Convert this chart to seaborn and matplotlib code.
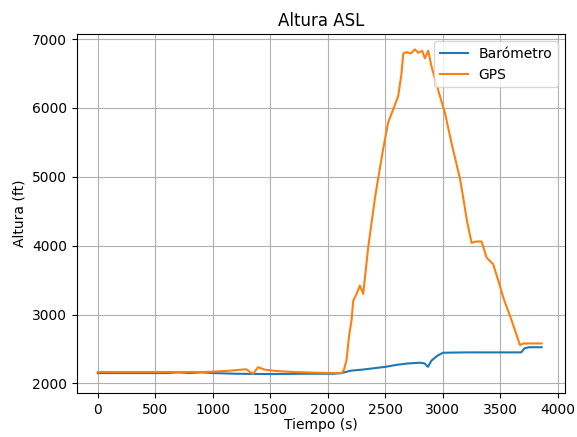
import pandas as pd
import matplotlib
matplotlib.use("Agg")
import matplotlib.pyplot as plt
import seaborn as sns

# Barómetro (tiempo s, altura ft)
baro_t = [0, 300, 600, 700, 800, 900, 1000, 1200, 1500, 1800, 2050, 2120, 2200, 2300,
          2400, 2500, 2600, 2700, 2800, 2840, 2870, 2900, 2950, 3000, 3200, 3400, 3600,
          3680, 3710, 3750, 3858]
baro_alt = [2150, 2150, 2150, 2160, 2150, 2160, 2150, 2140, 2135, 2140, 2140, 2150, 2185, 2200,
            2220, 2240, 2270, 2290, 2300, 2290, 2240, 2330, 2400, 2445, 2450, 2450, 2450,
            2450, 2510, 2525, 2525]

# GPS
gps_t = [0, 300, 600, 900, 1000, 1150, 1290, 1320, 1350, 1393, 1450, 1550, 1700, 1900,
         2050, 2100, 2119, 2140, 2162, 2185, 2206, 2220, 2250, 2278, 2307, 2350, 2409,
         2437, 2480, 2524, 2570, 2611, 2640, 2655, 2684, 2720, 2757, 2786, 2820, 2843,
         2872, 2901, 2960, 3017, 3080, 3148, 3177, 3210, 3249, 3290, 3336, 3380, 3437,
         3480, 3524, 3600, 3670, 3700, 3858]
gps_alt = [2165, 2165, 2165, 2165, 2170, 2185, 2205, 2170, 2140, 2235, 2200, 2180, 2165, 2155,
           2150, 2150, 2148, 2200, 2340, 2700, 2920, 3200, 3300, 3420, 3300, 3970, 4690,
           4975, 5400, 5790, 5990, 6170, 6500, 6790, 6810, 6790, 6850, 6800, 6830, 6720,
           6830, 6600, 6250, 5930, 5450, 4975, 4690, 4350, 4040, 4060, 4060, 3825, 3730,
           3500, 3250, 2900, 2556, 2580, 2580]

baro = pd.DataFrame({"t": baro_t, "alt": baro_alt})
gps = pd.DataFrame({"t": gps_t, "alt": gps_alt})

fig, ax = plt.subplots(figsize=(5.77, 4.37), dpi=100)
fig.subplots_adjust(left=0.133, right=0.979, bottom=0.1, top=0.922)

sns.lineplot(data=baro, x="t", y="alt", ax=ax, color="#1f77b4", lw=1.5, label="Barómetro")
sns.lineplot(data=gps, x="t", y="alt", ax=ax, color="#ff7f0e", lw=1.5, label="GPS")

ax.set_ylim(1856, 7072)
ax.set_xlim(-183, 4060)
ax.grid(True, color="#b0b0b0", linewidth=0.8)
ax.set_title("Altura ASL")
ax.set_xlabel("Tiempo (s)", labelpad=1)
ax.set_ylabel("Altura (ft)")
ax.legend(loc="upper right")

fig.savefig("out.png", dpi=100)
